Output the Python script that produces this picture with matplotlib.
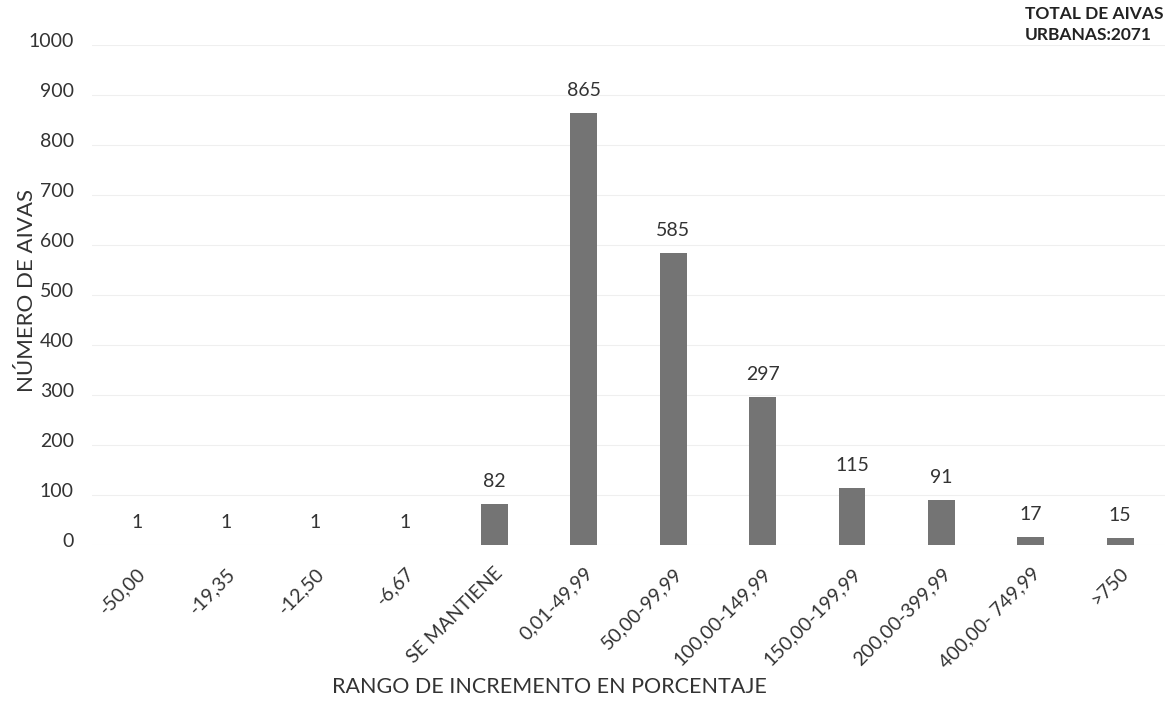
import matplotlib.pyplot as plt
from matplotlib.transforms import ScaledTranslation

# datos
rangos = ['-50,00', '-19,35', '-12,50', '-6,67', 'SE MANTIENE', '0,01-49,99',
          '50,00-99,99', '100,00-149,99', '150,00-199,99', '200,00-399,99',
          '400,00- 749,99', '>750']
num_aivas = [1, 1, 1, 1, 82, 865, 585, 297, 115, 91, 17, 15]
total_urbanas = 2071

plt.rcParams['font.family'] = ['Lato', 'DejaVu Sans']

fig = plt.figure(figsize=(11.7, 7.01), dpi=100)
ax = fig.add_axes([0.0786, 0.2225, 0.917, 0.7133])

x = range(len(rangos))
bars = ax.bar(x, num_aivas, width=0.3, color='#747474')

for b, v in zip(bars, num_aivas):
    ax.annotate(str(v), (b.get_x() + b.get_width() / 2, v),
                xytext=(0, 10), textcoords='offset points',
                ha='center', va='bottom', fontsize=14, color='#333333')

ax.set_xlim(-0.5, len(rangos) - 0.5)
ax.set_ylim(0, 1000)
ax.set_yticks(range(0, 1001, 100))
ax.set_xticks(list(x))
ax.set_xticklabels(rangos, rotation=45, ha='right', rotation_mode='anchor',
                   fontsize=14, color='#333333')
ax.tick_params(axis='y', labelsize=14, labelcolor='#333333', length=0, pad=13)
ax.tick_params(axis='x', length=0, pad=14)
# las etiquetas del eje y quedan un poco por encima de las líneas
for lab in ax.get_yticklabels():
    lab.set_transform(lab.get_transform() + ScaledTranslation(0, 0.05, fig.dpi_scale_trans))
ax.grid(axis='y', color='#efefef', linewidth=0.8)
ax.set_axisbelow(True)
for s in ax.spines.values():
    s.set_visible(False)

fig.text(0.023, 0.586, 'NÚMERO DE AIVAS', rotation=90, ha='center', va='center',
         fontsize=16, color='#333333')
fig.text(0.47, 0.006, 'RANGO DE INCREMENTO EN PORCENTAJE', ha='center', va='bottom',
         fontsize=15.5, color='#333333')
fig.text(0.876, 0.992, 'TOTAL DE AIVAS\nURBANAS:' + str(total_urbanas),
         ha='left', va='top', fontsize=12.5, fontweight='bold', color='#222222',
         linespacing=1.45)

fig.savefig('out.png', dpi=100)
